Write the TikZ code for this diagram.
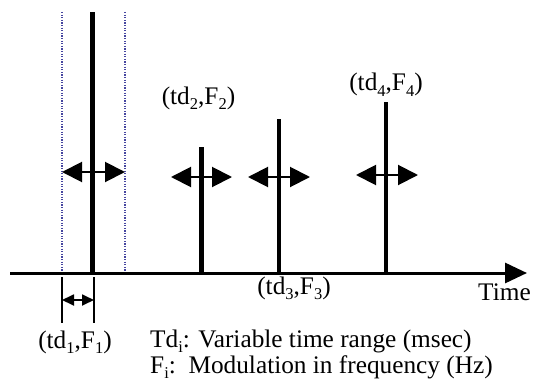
\documentclass[tikz,border=0pt]{standalone}
\usepackage{fontspec}
\setmainfont{Liberation Serif}
\usetikzlibrary{arrows.meta}
\definecolor{dotblue}{RGB}{70,70,160}
\newcommand{\lowr}[1]{\raisebox{-0.2em}{\fontsize{16.5}{16.5}\selectfont #1}}
\begin{document}
\begin{tikzpicture}[x=1pt,y=-1pt,
  lbl/.style={inner sep=0pt,font=\fontsize{25.3}{26}\selectfont},
  bar/.style={line width=4.5pt},
  guide/.style={dotblue,line width=1.2pt,dash pattern=on 1.2pt off 1.4pt},
  spread/.style={line width=2pt,{Triangle[length=20pt,width=20pt]}-{Triangle[length=20pt,width=20pt]}},
  tick/.style={line width=1.2pt},
  dim/.style={line width=1.8pt,{Triangle[length=12pt,width=11pt]}-{Triangle[length=12pt,width=11pt]}},
  axis/.style={line width=3pt,-{Triangle[length=22pt,width=20pt]}}]
\useasboundingbox (0,0) rectangle (534,385);
% guides
\coordinate (g1t) at (62,12); \coordinate (g1b) at (62,273);
\coordinate (g2t) at (125,12); \coordinate (g2b) at (125,273);
\draw[guide] (g1t) -- (g1b);
\draw[guide] (g2t) -- (g2b);
% bars
\coordinate (b1t) at (92.5,12);  \coordinate (b1b) at (92.5,273);
\coordinate (b2t) at (201.5,147); \coordinate (b2b) at (201.5,273);
\coordinate (b3t) at (279,119);  \coordinate (b3b) at (279,273);
\coordinate (b4t) at (386,102);  \coordinate (b4b) at (386,273);
\draw[bar] (b1b) -- (b1t);
\draw[bar] (b2b) -- (b2t);
\draw[bar] (b3b) -- (b3t);
\draw[bar] (b4b) -- (b4t);
% axis
\coordinate (a0) at (10,273); \coordinate (a1) at (527,273);
\draw[axis] (a0) -- (a1);
% spread arrows
\coordinate (s1l) at (62,172);  \coordinate (s1r) at (125,172);
\coordinate (s2l) at (171,177); \coordinate (s2r) at (232,177);
\coordinate (s3l) at (248,177); \coordinate (s3r) at (310,177);
\coordinate (s4l) at (356,175); \coordinate (s4r) at (418,175);
\draw[spread] (s1l) -- (s1r);
\draw[spread] (s2l) -- (s2r);
\draw[spread] (s3l) -- (s3r);
\draw[spread] (s4l) -- (s4r);
% dimension below axis
\coordinate (t1t) at (62,277); \coordinate (t1b) at (62,323);
\coordinate (t2t) at (94,277); \coordinate (t2b) at (94,323);
\draw[tick] (t1t) -- (t1b);
\draw[tick] (t2t) -- (t2b);
\coordinate (d1) at (62,300); \coordinate (d2) at (94,300);
\draw[dim] (d1) -- (d2);
% labels
\node[lbl,anchor=base] (l1) at (75,348) {(td\lowr{1},F\lowr{1})};
\node[lbl,anchor=base] (l2) at (198.5,104) {(td\lowr{2},F\lowr{2})};
\node[lbl,anchor=base] (l3) at (294,294) {(td\lowr{3},F\lowr{3})};
\node[lbl,anchor=base] (l4) at (386,91) {(td\lowr{4},F\lowr{4})};
\node[lbl,anchor=base west] (time) at (478,300) {Time};
\node[lbl,anchor=base west] (leg1) at (150,347) {Td\lowr{i}: Variable time range (msec)};
\node[lbl,anchor=base west] (leg2) at (150,373) {F\lowr{i}:\ \ Modulation in frequency (Hz)};
\end{tikzpicture}
\end{document}
